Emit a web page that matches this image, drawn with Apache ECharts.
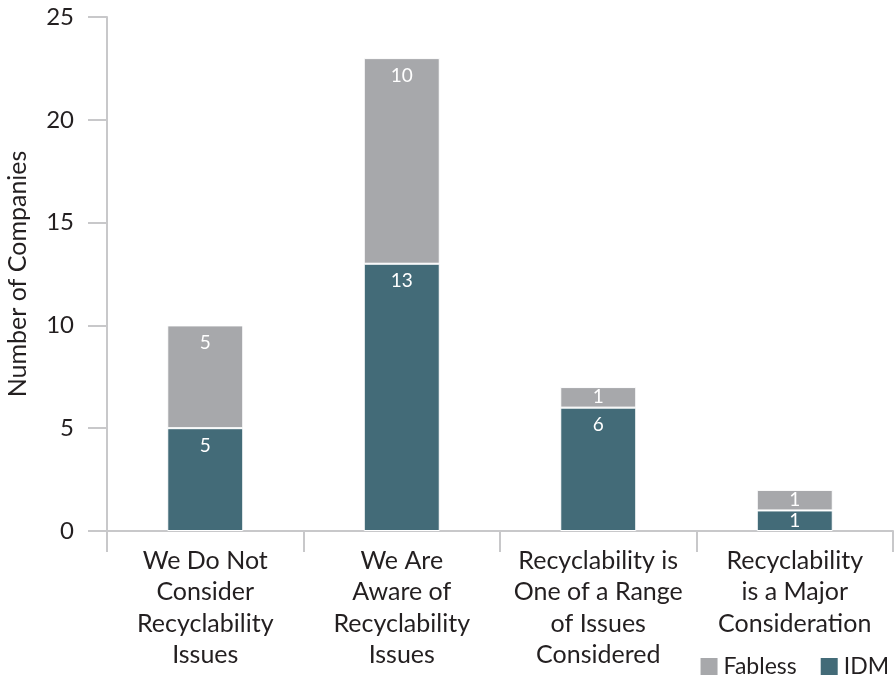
<!DOCTYPE html>
<html>
<head>
<meta charset="utf-8">
<script src="https://cdn.jsdelivr.net/npm/echarts@6/dist/echarts.min.js"></script>
<style>
  html, body { margin: 0; padding: 0; background: #fff; }
  #chart { width: 895px; height: 684px; }
</style>
</head>
<body>
<div id="chart"></div>
<script>
// Company counts by how recyclability is considered
const categories = [
  'We Do Not\nConsider\nRecyclability\nIssues',
  'We Are\nAware of\nRecyclability\nIssues',
  'Recyclability is\nOne of a Range\nof Issues\nConsidered',
  'Recyclability\nis a Major\nConsideration'
];
const idmValues = [5, 13, 6, 1];
const fablessValues = [5, 10, 1, 1];
const yTicks = [0, 5, 10, 15, 20, 25];

const FONT = 'Lato, "DejaVu Sans", sans-serif';
const TEXT = '#231f20';
const AXIS = '#c8c8ca';

function toItems(values) {
  return values.map(v => v <= 1
    ? { value: v, label: { position: 'inside' } }
    : { value: v });
}

const barLabel = {
  show: true,
  position: 'insideTop',
  distance: 8,
  color: '#fff',
  fontSize: 19,
  fontFamily: FONT
};

const chart = echarts.init(document.getElementById('chart'));
chart.setOption({
  animation: false,
  textStyle: { fontFamily: FONT },
  grid: { left: 107, right: 2, top: 17, bottom: 153, outerBoundsMode: 'none', containLabel: false },
  legend: {
    data: ['Fabless', 'IDM'],
    right: 1,
    bottom: 1,
    itemWidth: 19,
    itemHeight: 19,
    itemGap: 22,
    icon: 'rect',
    textStyle: { fontSize: 23, color: TEXT, fontFamily: FONT }
  },
  xAxis: {
    type: 'category',
    data: categories,
    axisLine: { lineStyle: { color: AXIS, width: 2 } },
    axisTick: { show: true, length: 21, alignWithLabel: false, lineStyle: { color: AXIS, width: 2 } },
    axisLabel: {
      color: TEXT,
      fontSize: 25,
      lineHeight: 31.5,
      margin: 14,
      interval: 0,
      fontFamily: FONT
    }
  },
  yAxis: {
    type: 'value',
    min: yTicks[0],
    max: yTicks[yTicks.length - 1],
    interval: 5,
    name: 'Number of Companies',
    nameLocation: 'middle',
    nameGap: 77,
    nameTextStyle: { fontSize: 25, color: TEXT, fontFamily: FONT },
    axisLine: { show: true, lineStyle: { color: AXIS, width: 2 } },
    axisTick: { show: true, length: 19, lineStyle: { color: AXIS, width: 2 } },
    splitLine: { show: false },
    axisLabel: { color: TEXT, fontSize: 24, margin: 33, fontFamily: FONT }
  },
  series: [
    {
      name: 'IDM',
      type: 'bar',
      stack: 'total',
      barWidth: 76,
      data: toItems(idmValues),
      itemStyle: { color: '#436b78', borderColor: '#fff', borderWidth: 1 },
      label: barLabel
    },
    {
      name: 'Fabless',
      type: 'bar',
      stack: 'total',
      barWidth: 76,
      data: toItems(fablessValues),
      itemStyle: { color: '#a7a8ab', borderColor: '#fff', borderWidth: 1 },
      label: barLabel
    }
  ]
});
</script>
</body>
</html>
